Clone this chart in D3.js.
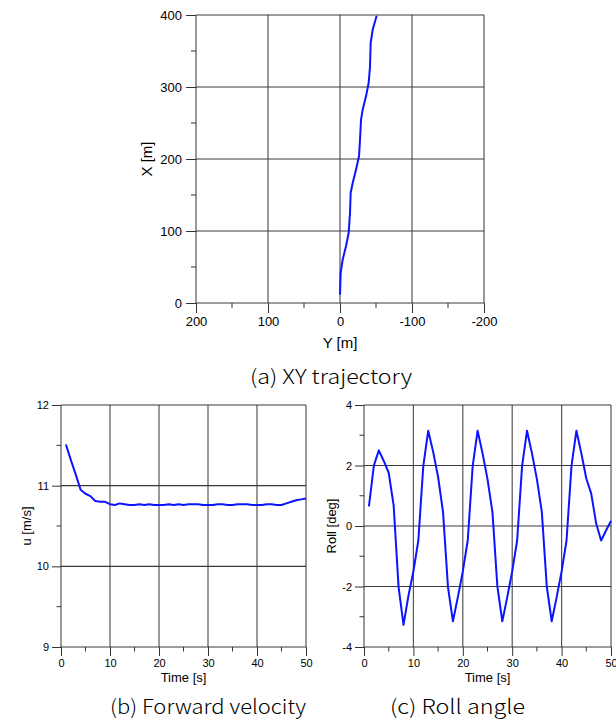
<!DOCTYPE html>
<html>
<head>
<meta charset="utf-8">
<script src="https://cdn.jsdelivr.net/npm/d3@7"></script>
<style>
  body { margin: 0; background: #fff; }
  svg { display: block; }
  .tick text { fill: #000; }
  .domain { display: none; }
</style>
</head>
<body>
<svg width="616" height="724"></svg>
<script>
// trajectory (Y [m], X [m])
const trajY = [0, -0.9, -3.7, -8.3, -12, -13.9, -14.8, -17.6, -22.2, -26.4, -27.8, -29.2, -31.5, -36.1, -39.8, -41.7, -42.6, -45.4, -50.9];
const trajX = [11.6, 41.7, 60.2, 78.7, 97.2, 125, 152.8, 166.7, 185.2, 203.7, 226.9, 254.6, 268.5, 287, 305.6, 328.7, 361.1, 379.6, 399];

// time series, 1 s steps
const time = d3.range(1, 51);
const velocity = [11.51, 11.32, 11.14, 10.95, 10.90, 10.87, 10.81, 10.80, 10.80, 10.77,
  10.76, 10.78, 10.77, 10.76, 10.76, 10.77, 10.76, 10.77, 10.76, 10.76,
  10.76, 10.77, 10.76, 10.77, 10.76, 10.77, 10.77, 10.77, 10.76, 10.76,
  10.76, 10.77, 10.77, 10.76, 10.76, 10.77, 10.77, 10.77, 10.76, 10.76,
  10.76, 10.77, 10.77, 10.76, 10.76, 10.78, 10.80, 10.82, 10.83, 10.84];
const roll = [0.65, 2.0, 2.5, 2.15, 1.76, 0.68, -2.02, -3.27, -2.3, -1.5,
  -0.48, 1.98, 3.15, 2.45, 1.62, 0.46, -2.02, -3.15, -2.35, -1.5,
  -0.48, 1.98, 3.15, 2.4, 1.55, 0.46, -2.0, -3.15, -2.35, -1.5,
  -0.48, 1.98, 3.15, 2.4, 1.55, 0.46, -2.0, -3.15, -2.35, -1.5,
  -0.48, 1.98, 3.15, 2.4, 1.57, 1.07, 0.08, -0.48, -0.15, 0.17];

const xyTicks = [200, 100, 0, -100, -200];
const xyMinor = [150, 50, -50, -150];
const xTicks = [0, 100, 200, 300, 400];
const xMinor = [50, 150, 250, 350];
const tTicks = [0, 10, 20, 30, 40, 50];
const tMinor = [5, 15, 25, 35, 45];
const uTicks = [9, 10, 11, 12];
const uMinor = [9.5, 10.5, 11.5];
const rollTicks = [-4, -2, 0, 2, 4];
const rollMinor = [-3, -1, 1, 3];

const svg = d3.select("svg");
const gridColor = "#3a3a3a";
const lineColor = "#0a14ff";
const fmt = d => String(d);

function panel(o) {
  const g = svg.append("g");
  const x = o.x, y = o.y;
  const [x0, x1] = x.range();
  const [y0, y1] = y.range();

  // grid
  g.append("g").selectAll("line").data(o.xTicks).enter().append("line")
    .attr("x1", d => x(d)).attr("x2", d => x(d))
    .attr("y1", y0).attr("y2", y1)
    .attr("stroke", "#555").attr("stroke-width", 1.2);
  g.append("g").selectAll("line").data(o.yTicks).enter().append("line")
    .attr("x1", x0).attr("x2", x1)
    .attr("y1", d => y(d)).attr("y2", d => y(d))
    .attr("stroke", gridColor).attr("stroke-width", 1.1);

  // axes
  const bottom = g.append("g").attr("transform", `translate(0,${y0})`)
    .call(d3.axisBottom(x).tickValues(o.xTicks).tickSize(o.tick).tickPadding(o.pad).tickFormat(fmt));
  bottom.append("g").selectAll("line").data(o.xMinor).enter().append("line")
    .attr("x1", d => x(d)).attr("x2", d => x(d))
    .attr("y1", 0).attr("y2", o.tick / 2).attr("stroke", "#333");
  const left = g.append("g").attr("transform", `translate(${x0},0)`)
    .call(d3.axisLeft(y).tickValues(o.yTicks).tickSize(o.tick).tickPadding(o.pad).tickFormat(fmt));
  left.append("g").selectAll("line").data(o.yMinor).enter().append("line")
    .attr("x1", 0).attr("x2", -o.tick / 2)
    .attr("y1", d => y(d)).attr("y2", d => y(d)).attr("stroke", "#333");
  g.selectAll(".tick line").attr("stroke", "#333");
  g.selectAll(".tick text")
    .style("font-family", "'Liberation Sans', Arial, sans-serif")
    .style("font-size", o.tickFont + "px");

  // axis titles
  g.append("text")
    .attr("x", (x0 + x1) / 2).attr("y", o.xTitleY)
    .attr("text-anchor", "middle")
    .style("font-family", "'Liberation Sans', Arial, sans-serif")
    .style("font-size", o.titleFont + "px")
    .text(o.xTitle);
  g.append("text")
    .attr("transform", `translate(${o.yTitleX},${(y0 + y1) / 2}) rotate(-90)`)
    .attr("text-anchor", "middle")
    .style("font-family", "'Liberation Sans', Arial, sans-serif")
    .style("font-size", o.titleFont + "px")
    .text(o.yTitle);

  // data
  g.append("path")
    .datum(o.data)
    .attr("fill", "none")
    .attr("stroke", lineColor)
    .attr("stroke-width", 2)
    .attr("stroke-linejoin", "round")
    .attr("d", d3.line().x(d => x(d[0])).y(d => y(d[1])));

  // caption
  g.append("text")
    .attr("x", o.capX).attr("y", o.capY)
    .attr("textLength", o.capW).attr("lengthAdjust", "spacingAndGlyphs")
    .style("font-family", "'Noto Sans CJK KR', 'Noto Sans', sans-serif")
    .style("font-size", "20px")
    .style("font-weight", 300)
    .text(o.caption);
}

panel({
  x: d3.scaleLinear().domain([200, -200]).range([196, 484]),
  y: d3.scaleLinear().domain([0, 400]).range([303, 15]),
  xTicks: xyTicks, xMinor: xyMinor, yTicks: xTicks, yMinor: xMinor,
  tick: 10, pad: 4, tickFont: 13, titleFont: 15,
  xTitle: "Y [m]", yTitle: "X [m]", xTitleY: 348, yTitleX: 152,
  data: trajY.map((v, i) => [v, trajX[i]]),
  caption: "(a)  XY  trajectory", capX: 250, capY: 384, capW: 162
});

panel({
  x: d3.scaleLinear().domain([0, 50]).range([61, 306]),
  y: d3.scaleLinear().domain([9, 12]).range([647, 405]),
  xTicks: tTicks, xMinor: tMinor, yTicks: uTicks, yMinor: uMinor,
  tick: 9, pad: 3, tickFont: 11, titleFont: 13,
  xTitle: "Time [s]", yTitle: "u [m/s]", xTitleY: 682, yTitleX: 31,
  data: time.map((t, i) => [t, velocity[i]]),
  caption: "(b)  Forward  velocity", capX: 110, capY: 714, capW: 196
});

panel({
  x: d3.scaleLinear().domain([0, 50]).range([364, 611]),
  y: d3.scaleLinear().domain([-4, 4]).range([647, 405]),
  xTicks: tTicks, xMinor: tMinor, yTicks: rollTicks, yMinor: rollMinor,
  tick: 9, pad: 3, tickFont: 11, titleFont: 13,
  xTitle: "Time [s]", yTitle: "Roll [deg]", xTitleY: 682, yTitleX: 336,
  data: time.map((t, i) => [t, roll[i]]),
  caption: "(c)  Roll  angle", capX: 390, capY: 714, capW: 135
});
</script>
</body>
</html>
